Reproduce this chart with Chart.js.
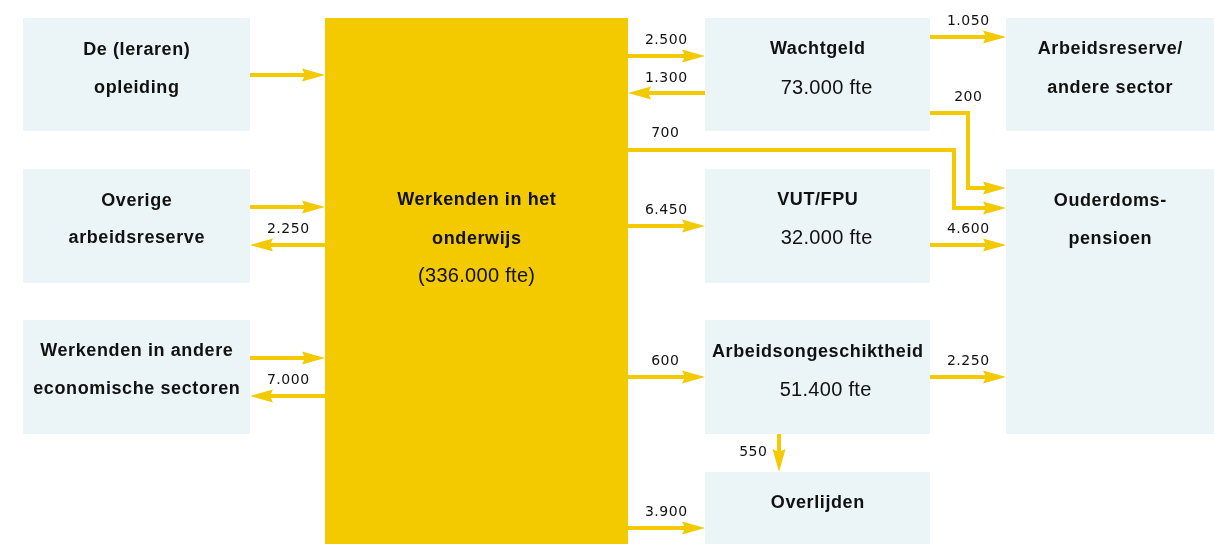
<!DOCTYPE html>
<html>
<head>
<meta charset="utf-8">
<script src="https://cdn.jsdelivr.net/npm/chart.js@4/dist/chart.umd.min.js"></script>
<style>
  html, body { margin: 0; padding: 0; background: #fff; overflow: hidden; }
  #wrap { width: 1214px; height: 544px; }
</style>
</head>
<body>
<div id="wrap"><canvas id="flow" width="1214" height="544"></canvas></div>
<script>
// =====================================================================
// DATA
// =====================================================================

// Node texts (bold title lines) and the optional fte line under them
const nodeTitles = [
  ['De (leraren)', 'opleiding'],
  ['Overige', 'arbeidsreserve'],
  ['Werkenden in andere', 'economische sectoren'],
  ['Werkenden in het', 'onderwijs'],
  ['Wachtgeld'],
  ['VUT/FPU'],
  ['Arbeidsongeschiktheid'],
  ['Overlijden'],
  ['Arbeidsreserve/', 'andere sector'],
  ['Ouderdoms-', 'pensioen'],
];
const nodeSubtitles = ['', '', '', '(336.000 fte)', '73.000 fte', '32.000 fte', '51.400 fte', '', '', ''];

// Flows: from node -> to node, with the printed value
const flowFrom   = [0, 1, 3, 2, 3, 3, 4, 4, 4, 3, 3, 5, 3, 6, 6, 3];
const flowTo     = [3, 3, 1, 3, 2, 4, 3, 8, 9, 9, 5, 9, 6, 9, 7, 7];
const flowValues = ['', '', '2.250', '', '7.000', '2.500', '1.300', '1.050', '200', '700', '6.450', '4.600', '600', '2.250', '550', '3.900'];

// =====================================================================
// LAYOUT (diagram units = pixels of the 1214 x 544 picture)
// =====================================================================
const W = 1214, H = 544;
const YELLOW = '#f3c900';
const BOX    = '#ebf4f7';
const INK    = '#111111';

const nodeRects = [
  [23, 18, 250, 131], [23, 169, 250, 283], [23, 320, 250, 434],
  [325, 18, 628, 544],
  [705, 18, 930, 131], [705, 169, 930, 283], [705, 320, 930, 434], [705, 472, 930, 544],
  [1006, 18, 1214, 131], [1006, 169, 1214, 434],
];
const nodeLineY = [
  [50, 88], [201, 238], [351, 389],
  [200, 239, 276],
  [49, 88], [200, 238], [352, 390], [503],
  [49, 88], [201, 239],
];
const subDx = [0, 0, 0, 0, 9, 9, 8, 0, 0, 0];

const flowPaths = [
  [[250, 75], [325, 75]],
  [[250, 207], [325, 207]],
  [[325, 245], [250, 245]],
  [[250, 358], [325, 358]],
  [[325, 396], [250, 396]],
  [[628, 56], [705, 56]],
  [[705, 93], [628, 93]],
  [[930, 37], [1006, 37]],
  [[930, 113], [968, 113], [968, 188], [1006, 188]],
  [[628, 150], [954, 150], [954, 208], [1006, 208]],
  [[628, 226], [705, 226]],
  [[930, 245], [1006, 245]],
  [[628, 377], [705, 377]],
  [[930, 377], [1006, 377]],
  [[779, 434], [779, 472]],
  [[628, 528], [705, 528]],
];
const flowLabelPos = [
  null, null, [288, 229], null, [288, 380],
  [666, 40], [666, 78], [968, 21], [968, 97], [665, 133],
  [666, 210], [968, 229], [665, 361], [968, 361], [753, 452], [666, 512],
];

const HEAD_LEN = 23, HEAD_HALF = 6.5, HEAD_NOTCH = 3;

// Shorten the last segment so the stroke stops inside the arrow head
function shaftPoints(path) {
  const pts = path.map(p => ({ x: p[0], y: p[1] }));
  const n = pts.length;
  const a = pts[n - 2], b = pts[n - 1];
  const len = Math.hypot(b.x - a.x, b.y - a.y);
  const cut = HEAD_LEN - HEAD_NOTCH - 1;
  pts[n - 1] = { x: b.x - (b.x - a.x) / len * cut, y: b.y - (b.y - a.y) / len * cut };
  return pts;
}

// centred text that ignores the trailing letter spacing
function spacedText(ctx, text, cx, cy, spacing) {
  ctx.letterSpacing = spacing + 'px';
  ctx.fillText(text, cx + spacing / 2, cy);
}

// =====================================================================
// PLUGIN: boxes behind, heads and texts on top
// =====================================================================
const diagramPlugin = {
  id: 'diagram',
  beforeDatasetsDraw(chart) {
    const { ctx, scales: { x, y } } = chart;
    ctx.save();
    nodeRects.forEach((r, i) => {
      const x0 = x.getPixelForValue(r[0]), x1 = x.getPixelForValue(r[2]);
      const y0 = y.getPixelForValue(r[1]), y1 = y.getPixelForValue(r[3]);
      ctx.fillStyle = i === 3 ? YELLOW : BOX;
      ctx.fillRect(x0, y0, x1 - x0, y1 - y0);
    });
    ctx.restore();
  },
  afterDatasetsDraw(chart) {
    const { ctx, scales: { x, y } } = chart;
    ctx.save();

    // arrow heads
    ctx.fillStyle = YELLOW;
    flowPaths.forEach(path => {
      const n = path.length;
      const ax = x.getPixelForValue(path[n - 2][0]), ay = y.getPixelForValue(path[n - 2][1]);
      const bx = x.getPixelForValue(path[n - 1][0]), by = y.getPixelForValue(path[n - 1][1]);
      const ang = Math.atan2(by - ay, bx - ax);
      ctx.save();
      ctx.translate(bx, by);
      ctx.rotate(ang);
      ctx.beginPath();
      ctx.moveTo(0, 0);
      ctx.lineTo(-HEAD_LEN, -HEAD_HALF);
      ctx.lineTo(-HEAD_LEN + HEAD_NOTCH, 0);
      ctx.lineTo(-HEAD_LEN, HEAD_HALF);
      ctx.closePath();
      ctx.fill();
      ctx.restore();
    });

    // node texts
    ctx.fillStyle = INK;
    ctx.textAlign = 'center';
    ctx.textBaseline = 'middle';
    nodeTitles.forEach((lines, i) => {
      const r = nodeRects[i];
      const cx = x.getPixelForValue((r[0] + r[2]) / 2);
      ctx.font = 'bold 18px "Liberation Sans"';
      lines.forEach((t, k) => spacedText(ctx, t, cx, y.getPixelForValue(nodeLineY[i][k]), 0.6));
      if (nodeSubtitles[i]) {
        ctx.font = '20px "Liberation Sans"';
        spacedText(ctx, nodeSubtitles[i], cx + subDx[i], y.getPixelForValue(nodeLineY[i][lines.length]), 0.3);
      }
    });

    // flow values
    ctx.font = '14px "DejaVu Sans"';
    flowValues.forEach((v, i) => {
      if (!v || !flowLabelPos[i]) return;
      spacedText(ctx, v, x.getPixelForValue(flowLabelPos[i][0]), y.getPixelForValue(flowLabelPos[i][1]), 0.5);
    });
    ctx.restore();
  },
};

// =====================================================================
// CHART
// =====================================================================
const datasets = flowPaths.map((path, i) => ({
  label: `${nodeTitles[flowFrom[i]][0]} → ${nodeTitles[flowTo[i]][0]}`,
  data: shaftPoints(path),
  showLine: true,
  borderColor: YELLOW,
  backgroundColor: YELLOW,
  borderWidth: 4,
  borderCapStyle: 'butt',
  borderJoinStyle: 'miter',
  pointRadius: 0,
  pointHoverRadius: 0,
  tension: 0,
  fill: false,
}));

new Chart(document.getElementById('flow').getContext('2d'), {
  type: 'scatter',
  data: { datasets },
  options: {
    responsive: false,
    animation: false,
    events: [],
    layout: { padding: 0 },
    plugins: { legend: { display: false }, tooltip: { enabled: false } },
    scales: {
      x: { type: 'linear', min: 0, max: W, display: false },
      y: { type: 'linear', min: 0, max: H, reverse: true, display: false },
    },
  },
  plugins: [diagramPlugin],
});
</script>
</body>
</html>
